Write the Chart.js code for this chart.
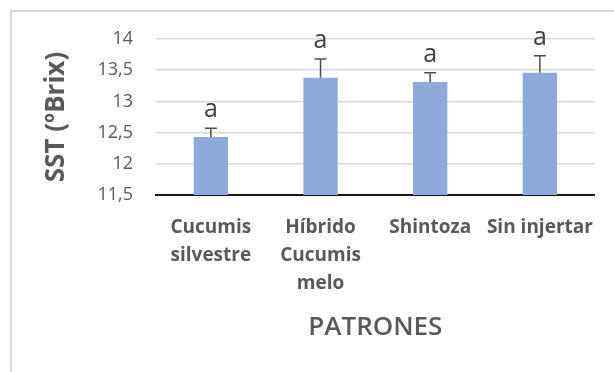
<!DOCTYPE html>
<html>
<head>
<meta charset="utf-8">
<title>SST por patrón</title>
<script src="https://cdn.jsdelivr.net/npm/chart.js@4/dist/chart.umd.min.js"></script>
<style>
  html, body { margin: 0; padding: 0; background: #ffffff; }
  canvas { display: block; }
</style>
</head>
<body>
<canvas id="chart" width="614" height="372"></canvas>
<script>
// Sólidos solubles totales por patrón (media ± error)
const categories = [['Cucumis', 'silvestre'], ['Híbrido', 'Cucumis', 'melo'], 'Shintoza', 'Sin injertar'];
const means = [12.43, 13.38, 13.31, 13.46];
const errors = [0.14, 0.30, 0.15, 0.27];
const letters = ['a', 'a', 'a', 'a'];
const yTicks = [11.5, 12, 12.5, 13, 13.5, 14];

const FONT = '"Open Sans", "DejaVu Sans", sans-serif';
const TEXT = '#595959';

// Marco exterior del gráfico
const framePlugin = {
  id: 'frame',
  beforeDraw(chart) {
    const ctx = chart.ctx;
    ctx.save();
    ctx.fillStyle = '#ffffff';
    ctx.fillRect(0, 0, chart.width, chart.height);
    ctx.strokeStyle = '#d9d9d9';
    ctx.lineWidth = 2;
    ctx.strokeRect(11, 11, chart.width + 20, chart.height + 20);
    ctx.restore();
  }
};

// Barras de error y letras de significación
const errorPlugin = {
  id: 'errorBars',
  afterDatasetsDraw(chart) {
    const ctx = chart.ctx;
    const y = chart.scales.y;
    const meta = chart.getDatasetMeta(0);
    ctx.save();
    meta.data.forEach((bar, i) => {
      const x = bar.x;
      const yTop = y.getPixelForValue(means[i] + errors[i]);
      const yMid = y.getPixelForValue(means[i]);
      ctx.strokeStyle = '#4d4d4d';
      ctx.lineWidth = 1.5;
      ctx.beginPath();
      ctx.moveTo(x, yMid);
      ctx.lineTo(x, yTop);
      ctx.moveTo(x - 6, yTop);
      ctx.lineTo(x + 6, yTop);
      ctx.stroke();
      ctx.fillStyle = '#404040';
      ctx.font = '25px ' + FONT;
      ctx.textAlign = 'center';
      ctx.textBaseline = 'alphabetic';
      ctx.fillText(letters[i], x, yTop - 11);
    });
    ctx.restore();
  }
};

new Chart(document.getElementById('chart'), {
  type: 'bar',
  data: {
    labels: categories,
    datasets: [{
      data: means,
      backgroundColor: '#8eaadb',
      borderWidth: 0,
      barPercentage: 0.313,
      categoryPercentage: 1
    }]
  },
  options: {
    responsive: false,
    animation: false,
    devicePixelRatio: 1,
    layout: { padding: { left: 12, top: 39, right: 17, bottom: 0 } },
    plugins: {
      legend: { display: false },
      tooltip: { enabled: false }
    },
    scales: {
      x: {
        afterFit(scale) { scale.height = 177; },
        grid: { display: false, drawTicks: false },
        border: { display: true, color: '#1a1a1a', width: 2 },
        ticks: {
          color: TEXT,
          padding: 19,
          maxRotation: 0,
          autoSkip: false,
          font: { family: FONT, size: 19, weight: 'bold', lineHeight: 1.47 }
        },
        title: {
          display: true,
          text: 'PATRONES',
          color: TEXT,
          font: { family: FONT, size: 26, weight: '600', lineHeight: 1.2 },
          padding: { top: 0, bottom: 29 }
        }
      },
      y: {
        min: 11.5,
        max: 14,
        afterFit(scale) { scale.width = 144; },
        afterBuildTicks(scale) { scale.ticks = yTicks.map(v => ({ value: v })); },
        grid: { color: '#d9d9d9', lineWidth: 1.5, drawTicks: false },
        border: { display: false },
        ticks: {
          color: TEXT,
          padding: 23,
          font: { family: FONT, size: 18 },
          callback: v => String(v).replace('.', ',')
        },
        title: {
          display: true,
          text: 'SST (ºBrix)',
          color: TEXT,
          font: { family: FONT, size: 26, weight: 'bold', lineHeight: 1.2 },
          padding: { top: 29, bottom: 0 }
        }
      }
    }
  },
  plugins: [framePlugin, errorPlugin]
});
</script>
</body>
</html>
